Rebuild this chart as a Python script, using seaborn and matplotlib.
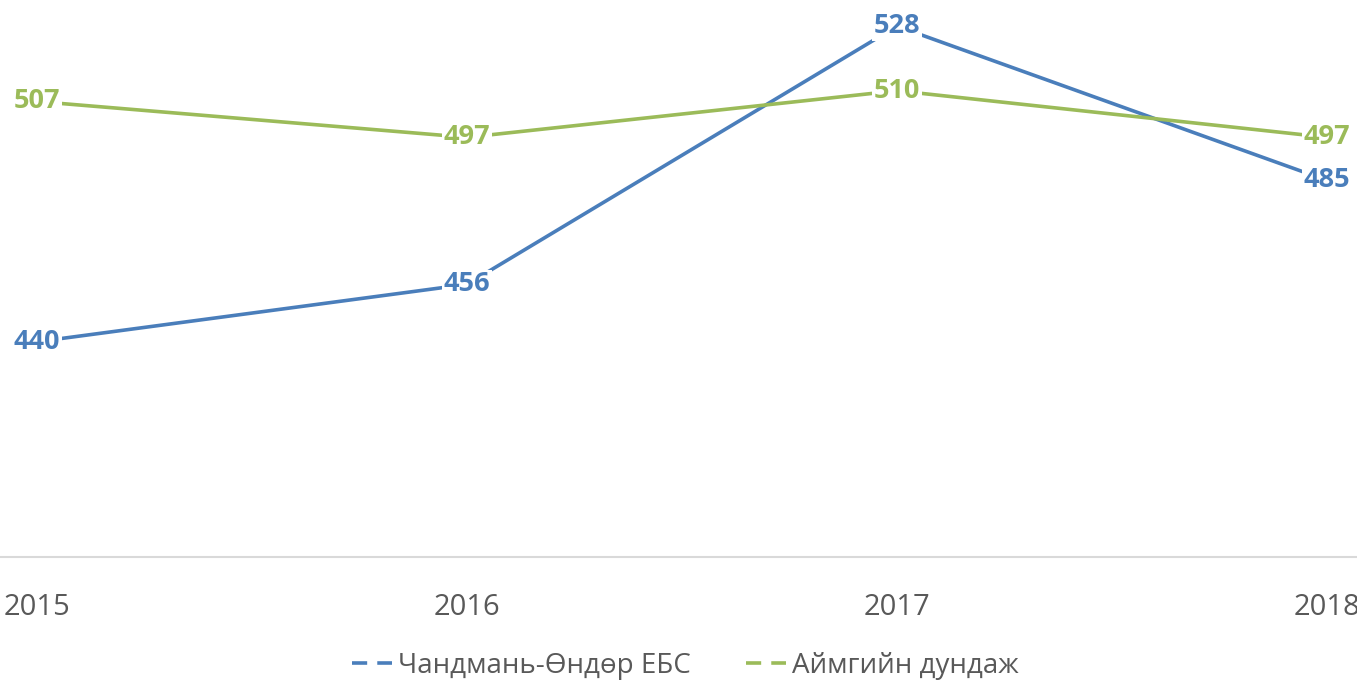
import pandas as pd
import seaborn as sns
import matplotlib.pyplot as plt
from matplotlib.lines import Line2D

years = ["2015", "2016", "2017", "2018"]
school = [440, 456, 528, 485]
aimag = [507, 497, 510, 497]
names = ["Чандмань-Өндөр ЕБС", "Аймгийн дундаж"]
colors = ["#4A7EBB", "#9BBB59"]

df = pd.DataFrame({
    "year": years * 2,
    "pos": list(range(len(years))) * 2,
    "value": school + aimag,
    "series": [names[0]] * 4 + [names[1]] * 4,
})

sns.set_style("white")
plt.rcParams["font.family"] = ["Open Sans", "DejaVu Sans"]

fig = plt.figure(figsize=(13.57, 6.85), dpi=100)
ax = fig.add_axes([0, 0.187, 1, 0.813])

sns.lineplot(data=df, x="pos", y="value", hue="series", palette=colors,
             linewidth=2.6, ax=ax, legend=False, sort=False)

# data labels with white boxes
for vals, c in zip([school, aimag], colors):
    for i, v in enumerate(vals):
        ax.text(i, v, str(v), color=c, fontsize=19.5, fontweight="bold",
                ha="center", va="center", zorder=5,
                bbox=dict(boxstyle="square,pad=0.05", fc="white", ec="none"))

ax.set_xlim(-37 / 430, (1357 - 37) / 430)
ax.set_ylim(380, 535.3)
ax.set_xticks(range(len(years)))
ax.set_xticklabels(years, fontsize=21, color="#595959")
ax.tick_params(axis="x", length=0, pad=26)
ax.set_yticks([])
ax.set_xlabel("")
ax.set_ylabel("")
for s in ["top", "left", "right"]:
    ax.spines[s].set_visible(False)
ax.spines["bottom"].set_color("#D9D9D9")
ax.spines["bottom"].set_linewidth(1.5)

handles = [Line2D([], [], color=c, linewidth=2.6, linestyle=(0, (4.2, 2.8)))
           for c in colors]
leg = fig.legend(handles, names, loc="center", bbox_to_anchor=(0.505, 0.028),
                 ncol=2, frameon=False, fontsize=20, handlelength=1.45,
                 handletextpad=0.2, columnspacing=2.0)
for t in leg.get_texts():
    t.set_color("#595959")

fig.savefig("out.png", dpi=100)
